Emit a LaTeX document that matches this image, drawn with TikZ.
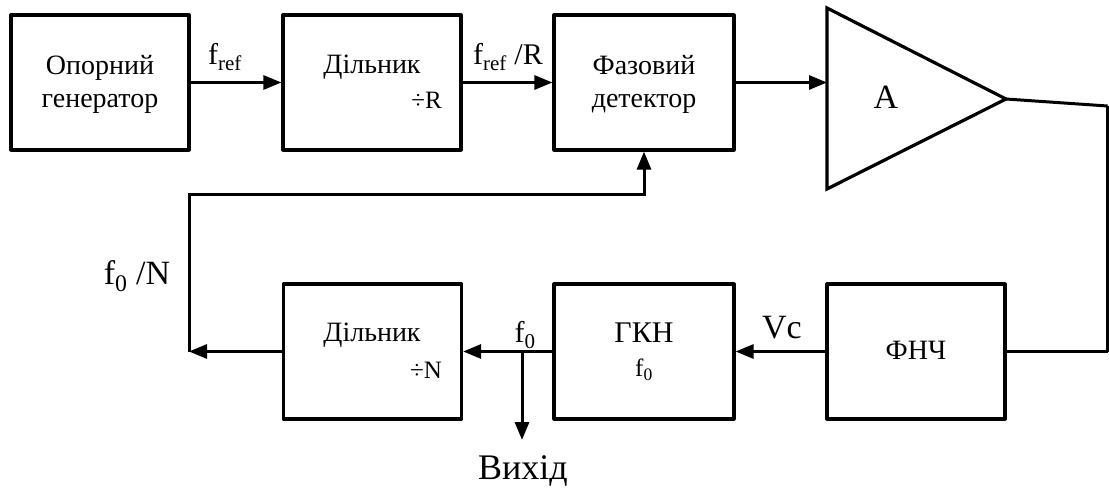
\documentclass[tikz,border=0pt]{standalone}
\usepackage{fontspec}
\setmainfont{Liberation Serif}
\usetikzlibrary{arrows.meta}
\tikzset{
  blk/.style={draw=black, line width=3.2pt, minimum width=178pt, minimum height=135pt, inner sep=0pt, line join=round},
  wire/.style={draw=black, line width=3pt},
  arr/.style={wire, -{Triangle[length=18pt,width=14pt]}},
  btxt/.style={font=\fontsize{28}{33}\selectfont, align=center, inner sep=0pt},
  stxt/.style={font=\fontsize{25}{28}\selectfont, inner sep=0pt},
  ltxt/.style={font=\fontsize{30}{34}\selectfont, inner sep=0pt},
  btxtl/.style={font=\fontsize{34}{40}\selectfont, inner sep=0pt},
}
\begin{document}
\begin{tikzpicture}[x=1pt,y=-1pt]
\useasboundingbox (0,0) rectangle (1109,492);
% top row
\node[blk] (ref) at (100,82.5) {};
\node[blk] (div1) at (372,82.5) {};
\node[blk, minimum width=180pt] (pd) at (644,82.5) {};
% bottom row
\node[blk] (div2) at (372.5,351.5) {};
\node[blk, minimum width=180pt] (vco) at (644,351.5) {};
\node[blk] (lpf) at (916,351.5) {};
% amplifier
\coordinate (ampin) at (827,82.5);
\coordinate (amptip) at (1006,99);
\draw[line width=3.2pt, line join=miter] (827,8) -- (amptip) -- (827,189) -- cycle;
% texts
\node[btxt] (t1) at (100,84) {Опорний\\генератор};
\node[btxt] (t2) at (372,67) {Дільник};
\node[stxt, anchor=east] (t2b) at (442,100) {÷R};
\node[btxt] (t3) at (644,84) {Фазовий\\детектор};
\node[btxtl] (tA) at (886,97) {A};
\node[btxt] (t4) at (372,335) {Дільник};
\node[stxt, anchor=east] (t4b) at (442,370) {÷N};
\node[font=\fontsize{30}{34}\selectfont, inner sep=0pt] (t5) at (644,333) {ГКН};
\node[stxt] (t5b) at (644,370) {f\textsubscript{0}};
\node[btxt] (t6) at (916,350) {ФНЧ};
% labels
\node[ltxt] (lref) at (225,57) {f\textsubscript{ref}};
\node[ltxt] (lrefR) at (508,57) {f\textsubscript{ref} /R};
\node[btxtl] (lfN) at (137,276) {f\textsubscript{0} /N};
\node[btxtl] (lVc) at (782,328) {Vc};
\node[ltxt] (lf0) at (525,335) {f\textsubscript{0}};
\node[font=\fontsize{36}{40}\selectfont, inner sep=0pt] (lout) at (523,471) {Вихід};
% connectors
\draw[arr] (ref.east) -- (div1.west);
\draw[arr] (div1.east) -- (pd.west);
\draw[arr] (pd.east) -- (ampin);
\coordinate (rtop) at (1107.5,106);
\coordinate (rbot) at (1107.5,351.5);
\draw[wire] (amptip) -- (rtop);
\draw[line width=2.4pt] (rtop) -- (rbot);
\draw[wire] (rbot) -- (lpf.east);
\draw[arr] (lpf.west) -- (vco.east);
\draw[arr] (vco.west) -- (div2.east);
\coordinate (jn) at (522,351.5);
\coordinate (outend) at (522,440);
\draw[arr] (jn) -- (outend);
\coordinate (fbcorner) at (189,351.5);
\coordinate (fbtop) at (189,195);
\draw[arr] (div2.west) -- (fbcorner);
\draw[arr, line join=miter] (fbcorner) -- (fbtop) -| (pd.south);
\end{tikzpicture}
\end{document}
